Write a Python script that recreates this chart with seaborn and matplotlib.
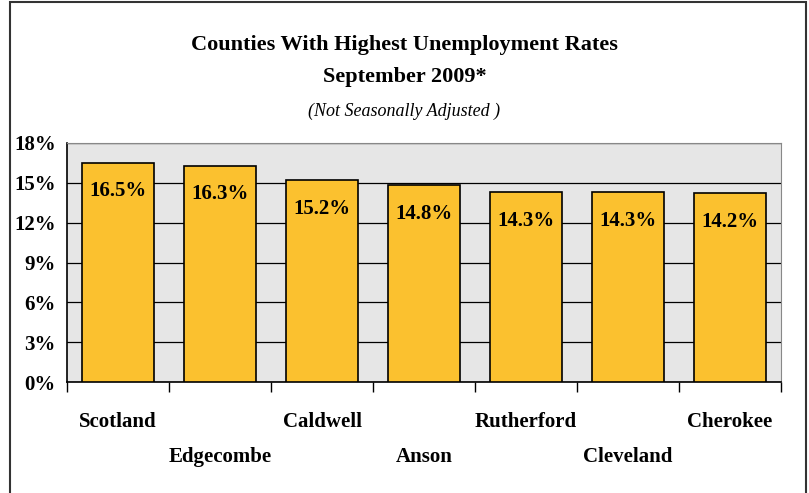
import matplotlib
matplotlib.use("Agg")
import matplotlib.pyplot as plt
import numpy as np
import pandas as pd
import seaborn as sns
from matplotlib.patches import Rectangle
from matplotlib.ticker import FuncFormatter, MultipleLocator

counties = ["Scotland", "Edgecombe", "Caldwell", "Anson", "Rutherford", "Cleveland", "Cherokee"]
rates = [16.5, 16.3, 15.2, 14.8, 14.3, 14.3, 14.2]

sns.set_style("white")
plt.rcParams['font.family'] = ['Liberation Serif', 'DejaVu Serif']
plt.rcParams['font.weight'] = 'bold'
plt.rcParams['text.color'] = 'black'
plt.rcParams['xtick.color'] = 'black'
plt.rcParams['ytick.color'] = 'black'

df = pd.DataFrame({"county": counties, "rate": rates})

fig = plt.figure(figsize=(8.09, 4.93), dpi=100)
ax = fig.add_axes([67 / 809, 1 - 382 / 493, (781 - 67) / 809, (382 - 143) / 493])

# outer frame of the chart
fig.patches.append(Rectangle((10 / 809, -0.02), (806 - 10) / 809, 1.02 - 2 / 493,
                             transform=fig.transFigure, fill=False, lw=1.5,
                             edgecolor="#333333"))

ax.set_facecolor("#e6e6e6")
sns.barplot(data=df, x="county", y="rate", color="#fbc12f", width=0.7,
            edgecolor="black", linewidth=1.2, saturation=1, ax=ax, zorder=3)

ax.set_ylim(0, 18)
ax.set_xlim(-0.5, len(counties) - 0.5)
ax.yaxis.set_major_locator(MultipleLocator(3))
ax.yaxis.set_major_formatter(FuncFormatter(lambda v, p: f"{v:.0f}%"))
ax.grid(axis="y", color="black", lw=0.9, zorder=1)
ax.set_axisbelow(True)

for i, v in enumerate(rates):
    ax.annotate(f"{v}%", (i, v), xytext=(0, -20.5), textcoords="offset points",
                ha="center", va="center", fontsize=15, fontweight="bold", zorder=4)

# county names on two staggered rows, tick marks between bars
ax.set_xticks(range(len(counties)))
ax.set_xticklabels([])
ax.tick_params(axis="x", which="major", length=0)
ax.set_xticks(np.arange(-0.5, len(counties), 1), minor=True)
ax.tick_params(axis="x", which="minor", bottom=True, length=7, width=1,
               color="black", direction="out")
for i, name in enumerate(counties):
    off = -40 if i % 2 == 0 else -75
    ax.annotate(name, (i, 0), xytext=(0, off * 0.72), textcoords="offset points",
                ha="center", va="center", fontsize=15, fontweight="bold",
                annotation_clip=False)

ax.tick_params(axis="y", length=0, pad=8, labelsize=15)
for lab in ax.get_yticklabels():
    lab.set_fontweight("bold")
ax.set_xlabel("")
ax.set_ylabel("")

for side in ["top", "right"]:
    ax.spines[side].set_color("#888888")
    ax.spines[side].set_visible(True)
for side in ["left", "bottom"]:
    ax.spines[side].set_color("black")
    ax.spines[side].set_visible(True)
    ax.spines[side].set_linewidth(1.2)

fig.text(0.5, 1 - 45 / 493, "Counties With Highest Unemployment Rates",
         ha="center", va="center", fontsize=16, fontweight="bold")
fig.text(0.5, 1 - 77 / 493, "September 2009*",
         ha="center", va="center", fontsize=16, fontweight="bold")
fig.text(0.5, 1 - 111 / 493, "(Not Seasonally Adjusted )",
         ha="center", va="center", fontsize=13, fontweight="normal", style="italic")

fig.savefig("out.png", dpi=100)
